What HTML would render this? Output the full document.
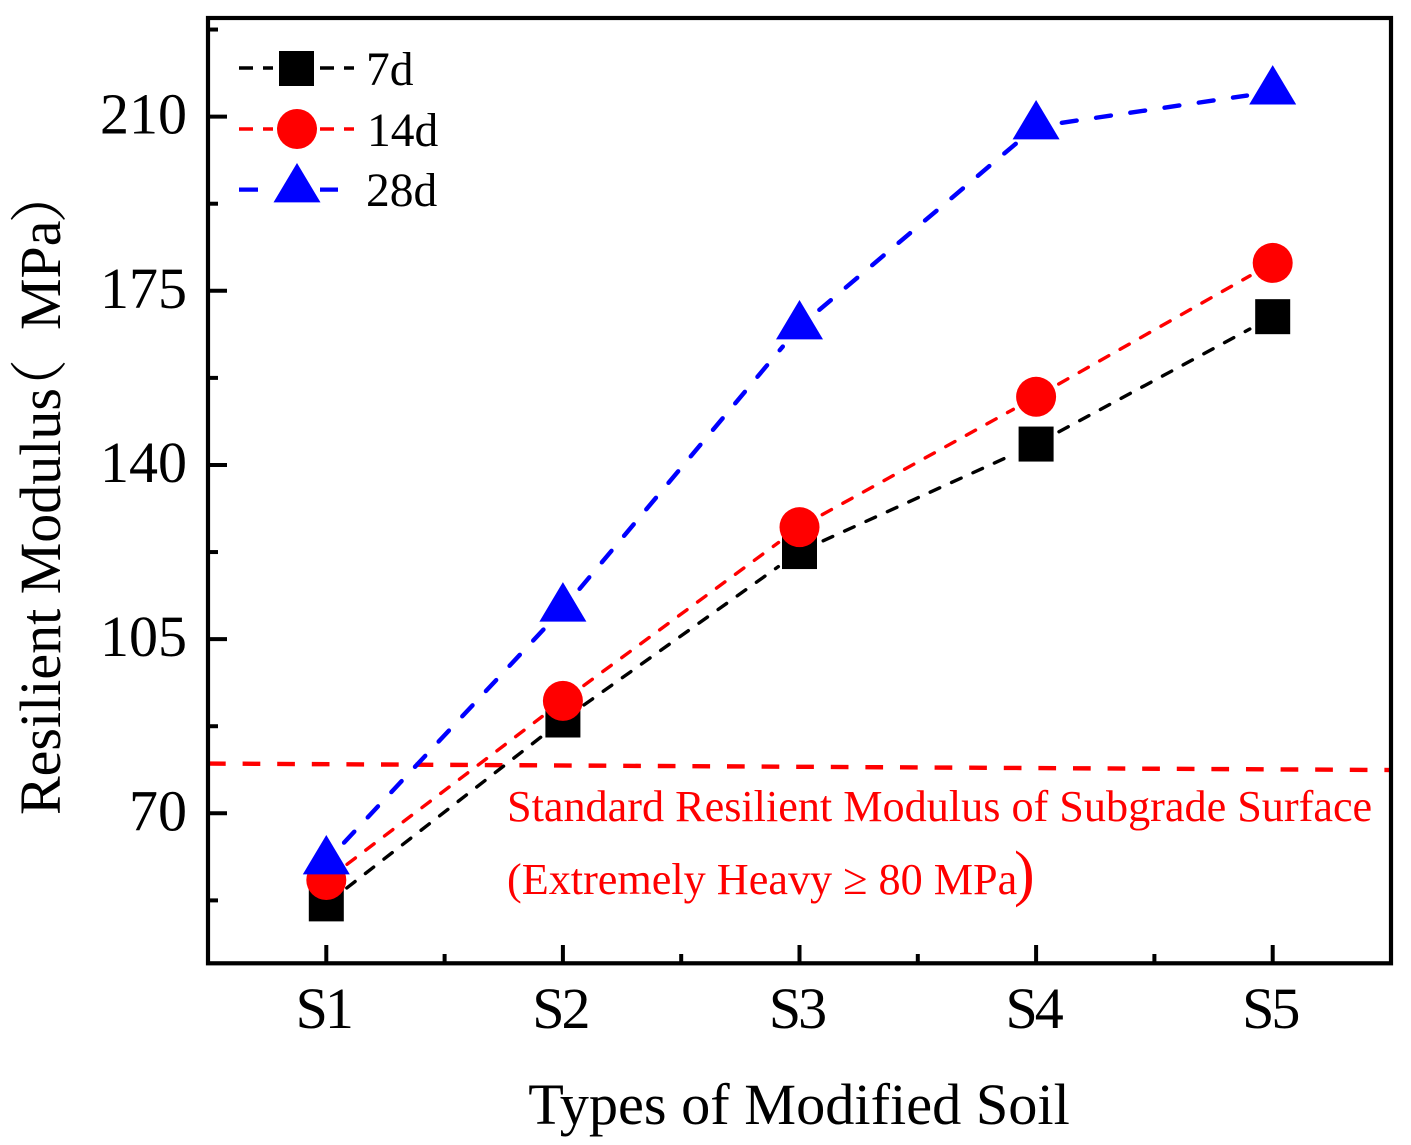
<!DOCTYPE html>
<html lang="en">
<head>
<meta charset="utf-8">
<title>Resilient Modulus chart</title>
<style>
  html, body { margin: 0; padding: 0; background: #fff; }
  svg { display: block; }
  text { font-family: "Liberation Serif", "Noto Serif CJK SC", serif; }
</style>
</head>
<body>
<svg id="chart" xmlns="http://www.w3.org/2000/svg" width="1411" height="1145" viewBox="0 0 1411 1145">
  <rect x="0" y="0" width="1411" height="1145" fill="#fff"/>
  <g id="marks"></g>
  <rect x="208" y="18" width="1183" height="945.3" fill="none" stroke="#000" stroke-width="4.2"/>
  <g id="axes"></g>

  <text x="799" y="1124" font-size="58.3" text-anchor="middle">Types of Modified Soil</text>
  <text transform="translate(60 815) rotate(-90)" font-size="58">Resilient Modulus<tspan dx="-29">（</tspan><tspan dx="29">MPa</tspan><tspan dx="-3">）</tspan></text>

  <text x="507" y="821" font-size="44.2" fill="#f00">Standard Resilient Modulus of Subgrade Surface</text>
  <text x="507" y="894" font-size="44.2" fill="#f00">(Extremely Heavy ≥ 80 MPa<tspan x="1014" font-size="62">)</tspan></text>

  <g>
    <g>
      <line x1="239" y1="68" x2="273" y2="68" stroke="#000" stroke-width="3.4" stroke-dasharray="14 10"/>
      <line x1="320" y1="68" x2="354" y2="68" stroke="#000" stroke-width="3.4" stroke-dasharray="14 10"/>
      <rect x="279" y="51" width="35" height="35" fill="#000"/>
      <text x="366" y="85" font-size="47.5">7d</text>
    </g>
    <g>
      <line x1="239" y1="129" x2="273" y2="129" stroke="#f00" stroke-width="3.4" stroke-dasharray="14 10"/>
      <line x1="320" y1="129" x2="354" y2="129" stroke="#f00" stroke-width="3.4" stroke-dasharray="14 10"/>
      <circle cx="297" cy="129" r="20" fill="#f00"/>
      <text x="367" y="146" font-size="47.5">14d</text>
    </g>
    <g>
      <line x1="239" y1="189.6" x2="258" y2="189.6" stroke="#00f" stroke-width="4.2"/>
      <line x1="320" y1="189.6" x2="338" y2="189.6" stroke="#00f" stroke-width="4.2"/>
      <polygon points="297,163 320.5,202.4 273.5,202.4" fill="#00f"/>
      <text x="366" y="206" font-size="47.5">28d</text>
    </g>
  </g>
</svg>
<script>
const categories = ["S1", "S2", "S3", "S4", "S5"];
const values7d = [51.8, 88.75, 122.6, 144.2, 169.8];
const values14d = [56.6, 92.6, 127.5, 153.7, 180.6];
const values28d = [60.3, 111.1, 167.8, 208, 215];
const standardLine = [80, 78.7];
const yMajorTicks = [70, 105, 140, 175, 210];
const yMinorTicks = [52.5, 87.5, 122.5, 157.5, 192.5, 227.5];
const xMinorTicks = [0.5, 1.5, 2.5, 3.5];

const yDomain = [40, 230];
const yRange = [962.6, 17.1];
const xDomain = [-0.5, 4.5];
const xRange = [208, 1391];
const NS = "http://www.w3.org/2000/svg";

function xScale(v) {
  return xRange[0] + (v - xDomain[0]) / (xDomain[1] - xDomain[0]) * (xRange[1] - xRange[0]);
}
function yScale(v) {
  return yRange[0] + (v - yDomain[0]) / (yDomain[1] - yDomain[0]) * (yRange[1] - yRange[0]);
}
function make(tag, attrs, parent) {
  const el = document.createElementNS(NS, tag);
  for (const k in attrs) el.setAttribute(k, attrs[k]);
  parent.appendChild(el);
  return el;
}

const axes = document.getElementById("axes");
const marks = document.getElementById("marks");

yMajorTicks.forEach(function (v) {
  const t = make("line", { x1: 208, x2: 227, y1: yScale(v), y2: yScale(v), stroke: "#000", "stroke-width": 4 }, axes);
  
  
  const l = make("text", { x: 187, y: yScale(v) + 17, "font-size": 58, "text-anchor": "end" }, axes);
  
  
  l.textContent = v;
});
yMinorTicks.forEach(function (v) {
  const t = make("line", { x1: 208, x2: 218, y1: yScale(v), y2: yScale(v), stroke: "#000", "stroke-width": 4 }, axes);
  
  
});
categories.forEach(function (c, i) {
  const t = make("line", { x1: xScale(i), x2: xScale(i), y1: 963, y2: 945, stroke: "#000", "stroke-width": 4 }, axes);
  
  
  const l = make("text", { x: xScale(i) - 3, y: 1028, "font-size": 58, "text-anchor": "middle", "letter-spacing": -3 }, axes);
  
  
  l.textContent = c;
});
xMinorTicks.forEach(function (v) {
  const t = make("line", { x1: xScale(v), x2: xScale(v), y1: 963, y2: 954, stroke: "#000", "stroke-width": 4 }, axes);
  
  
});

const stdLine = make("line", {
  x1: 208, x2: 1391, y1: yScale(standardLine[0]), y2: yScale(standardLine[1]),
  stroke: "#f00", "stroke-width": 4.4, "stroke-dasharray": "17.7 16.9"
}, marks);



function drawSeriesLine(values, color, width, dash, name) {
  const gap = 26;
  for (let i = 0; i < values.length - 1; i++) {
    const x1 = xScale(i), y1 = yScale(values[i]);
    const x2 = xScale(i + 1), y2 = yScale(values[i + 1]);
    const len = Math.hypot(x2 - x1, y2 - y1);
    const ux = (x2 - x1) / len, uy = (y2 - y1) / len;
    const seg = make("line", {
      x1: x1 + ux * gap, y1: y1 + uy * gap,
      x2: x2 - ux * gap, y2: y2 - uy * gap,
      stroke: color, "stroke-width": width, "stroke-dasharray": dash, "stroke-linecap": "round"
    }, marks);
    
    
  }
}
drawSeriesLine(values7d, "#000", 3.4, "10.5 13", "series-7d");
drawSeriesLine(values14d, "#f00", 3.4, "10.5 13", "series-14d");
drawSeriesLine(values28d, "#00f", 4.4, "15 19.6", "series-28d");

values7d.forEach(function (v, i) {
  const m = make("rect", { x: xScale(i) - 17.5, y: yScale(v) - 17.5, width: 35, height: 35, fill: "#000" }, marks);
  
  
});
values14d.forEach(function (v, i) {
  const m = make("circle", { cx: xScale(i), cy: yScale(v), r: 20, fill: "#f00" }, marks);
  
  
});
values28d.forEach(function (v, i) {
  const x = xScale(i), y = yScale(v);
  const m = make("polygon", {
    points: x + "," + (y - 26.6) + " " + (x + 23.5) + "," + (y + 12.8) + " " + (x - 23.5) + "," + (y + 12.8),
    fill: "#00f"
  }, marks);
  
  
});
</script>
</body>
</html>
